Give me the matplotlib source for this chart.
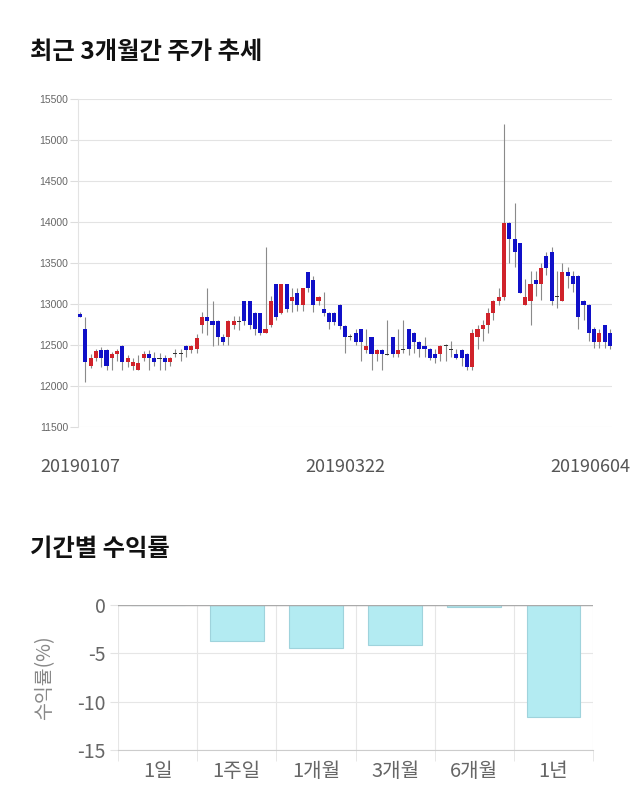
import numpy as np
import matplotlib
matplotlib.use("Agg")
import matplotlib.pyplot as plt
from matplotlib.transforms import ScaledTranslation

plt.rcParams['font.family'] = ['Noto Sans CJK KR', 'DejaVu Sans']

# 일봉 데이터
opens = [12880, 12700, 12240, 12340, 12440, 12440, 12340, 12390, 12490, 12290,
         12240, 12190, 12340, 12390, 12340, 12340, 12340, 12290, 12400, 12400,
         12490, 12440, 12450, 12740, 12840, 12790, 12790, 12600, 12600, 12740,
         12790, 13040, 13040, 12890, 12890, 12650, 12740, 13240, 12890, 13240,
         13040, 13140, 12990, 13390, 13290, 13040, 12940, 12890, 12890, 12990,
         12730, 12600, 12650, 12700, 12440, 12600, 12390, 12440, 12390, 12600,
         12390, 12450, 12700, 12650, 12540, 12490, 12450, 12390, 12390, 12490,
         12450, 12390, 12440, 12390, 12230, 12600, 12700, 12740, 12890, 13040,
         13090, 13990, 13790, 13740, 12990, 13040, 13290, 13240, 13590, 13640,
         13090, 13040, 13390, 13340, 13340, 13040, 12990, 12700, 12540, 12740,
         12650]
closes = [12840, 12290, 12340, 12430, 12340, 12240, 12390, 12430, 12290, 12340,
          12290, 12280, 12390, 12340, 12290, 12340, 12290, 12340, 12400, 12400,
          12440, 12490, 12590, 12840, 12790, 12740, 12600, 12540, 12790, 12790,
          12790, 12790, 12740, 12700, 12650, 12700, 13040, 12840, 13240, 12940,
          13090, 12990, 13200, 13200, 12990, 13090, 12890, 12780, 12780, 12730,
          12600, 12600, 12540, 12540, 12490, 12390, 12440, 12390, 12390, 12390,
          12440, 12450, 12450, 12540, 12450, 12450, 12340, 12340, 12490, 12490,
          12450, 12340, 12340, 12230, 12650, 12700, 12740, 12890, 13040, 13090,
          13990, 13790, 13630, 13140, 13090, 13240, 13240, 13440, 13440, 13040,
          13090, 13390, 13340, 13240, 12840, 12990, 12650, 12540, 12650, 12540,
          12490]
highs = [12900, 12840, 12390, 12450, 12480, 12450, 12420, 12450, 12500, 12380,
         12340, 12380, 12430, 12440, 12420, 12400, 12380, 12350, 12450, 12450,
         12500, 12500, 12640, 12900, 13200, 13040, 12800, 12640, 12800, 12850,
         12850, 13040, 13040, 12900, 12890, 13700, 13100, 13240, 13240, 13240,
         13200, 13200, 13200, 13390, 13340, 13100, 13150, 12900, 12900, 13000,
         12740, 12640, 12700, 12700, 12700, 12600, 12450, 12450, 12800, 12600,
         12700, 12800, 12700, 12660, 12550, 12600, 12460, 12450, 12500, 12510,
         12550, 12450, 12450, 12400, 12700, 12750, 12800, 12950, 13050, 13200,
         15200, 14000, 14230, 13740, 13300, 13400, 13400, 13500, 13640, 13700,
         13400, 13500, 13450, 13400, 13350, 13050, 13000, 12720, 12700, 12750,
         12700]
lows = [12840, 12050, 12220, 12300, 12230, 12200, 12200, 12300, 12200, 12230,
        12200, 12190, 12300, 12200, 12250, 12200, 12200, 12250, 12350, 12300,
        12350, 12400, 12400, 12650, 12620, 12490, 12500, 12500, 12500, 12700,
        12680, 12750, 12700, 12620, 12620, 12650, 12720, 12800, 12880, 12900,
        12900, 12920, 12920, 13150, 12900, 12990, 12850, 12700, 12750, 12700,
        12400, 12560, 12500, 12300, 12400, 12200, 12300, 12200, 12380, 12350,
        12350, 12400, 12380, 12400, 12350, 12350, 12320, 12280, 12300, 12300,
        12350, 12330, 12250, 12200, 12200, 12450, 12550, 12650, 12800, 12990,
        13050, 13500, 13450, 13140, 12990, 12740, 13100, 13050, 13350, 12990,
        12950, 13040, 13200, 13150, 12700, 12800, 12550, 12460, 12460, 12460,
        12450]
date_ticks = [0, 50, 100]
date_labels = ['20190107', '20190322', '20190604']
price_ticks = [11500, 12000, 12500, 13000, 13500, 14000, 14500, 15000, 15500]

# 기간별 수익률
periods = ['1일', '1주일', '1개월', '3개월', '6개월', '1년']
returns = [0, -3.7, -4.45, -4.1, -0.2, -11.6]

fig = plt.figure(figsize=(6.4, 8.1), dpi=100)

fig.text(0.047, 0.936, '최근 3개월간 주가 추세', fontsize=17.5, fontweight='bold',
         ha='left', va='center', color='#111111')
fig.text(0.047, 0.322, '기간별 수익률', fontsize=17.5, fontweight='bold',
         ha='left', va='center', color='#111111')

### 캔들 차트
ax = fig.add_axes([0.1219, 0.4728, 0.8344, 0.405])
o = np.array(opens)
c = np.array(closes)
h = np.array(highs)
l = np.array(lows)
x = np.arange(len(o))
up = c > o
down = c < o
flat = c == o

ax.vlines(x, l, h, color='#8a8a8a', linewidth=0.8, zorder=2)
bottom = np.minimum(o, c)
height = np.maximum(np.abs(c - o), 12)
ax.bar(x[up], height[up], bottom=bottom[up], width=0.78, color='#d0222a', zorder=3)
ax.bar(x[down], height[down], bottom=bottom[down], width=0.78, color='#1010c8', zorder=3)
ax.bar(x[flat], height[flat], bottom=bottom[flat] - 6, width=0.78, color='#333333', zorder=3)

ax.set_xlim(-0.38, len(o) - 1 + 0.38)
ax.set_ylim(11500, 15500)
ax.set_yticks(price_ticks)
ax.set_yticklabels([str(p) for p in price_ticks], fontsize=7.5, color='#666666',
                   family=['Liberation Sans', 'DejaVu Sans'])
ax.set_xticks(date_ticks)
ax.set_xticklabels(date_labels, fontsize=13, color='#555555')
ax.tick_params(axis='x', length=0, pad=22)
ax.tick_params(axis='y', length=6, color='#dddddd', pad=1)
ax.grid(axis='y', color='#e3e3e3', linewidth=0.8)
for s in ['top', 'right', 'bottom']:
    ax.spines[s].set_visible(False)
ax.spines['left'].set_color('#e3e3e3')
ax.set_axisbelow(True)
lab = ax.get_xticklabels()[-1]
lab.set_transform(lab.get_transform() + ScaledTranslation(-0.2, 0, fig.dpi_scale_trans))

### 수익률 막대
ax2 = fig.add_axes([0.1844, 0.0741, 0.7422, 0.179])
ax2.bar(np.arange(len(periods)), returns, width=0.68, color='#b3ebf2',
        edgecolor='#9fd3dc', linewidth=0.8, zorder=3)
ax2.axhline(0, color='#aaaaaa', linewidth=1, zorder=4)
ax2.set_xlim(-0.5, len(periods) - 0.5)
ax2.set_ylim(-15, 0)
ax2.set_yticks([0, -5, -10, -15])
ax2.set_yticklabels(['0', '-5', '-10', '-15'], fontsize=14, color='#666666')
ax2.set_xticks(np.arange(len(periods)))
ax2.set_xticklabels(periods, fontsize=14.5, color='#666666')
ax2.set_xticks(np.arange(-0.5, len(periods)), minor=True)
ax2.tick_params(axis='x', which='major', length=0, pad=8)
ax2.tick_params(axis='x', which='minor', length=8, color='#e3e3e3')
ax2.tick_params(axis='y', length=6, color='#e3e3e3', pad=3)
ax2.grid(axis='y', color='#e6e6e6', linewidth=0.8)
ax2.grid(axis='x', which='minor', color='#e6e6e6', linewidth=0.8)
for s in ['top', 'right', 'left']:
    ax2.spines[s].set_visible(False)
ax2.spines['bottom'].set_color('#cccccc')
ax2.set_axisbelow(True)
ax2.set_ylabel('수익률(%)', fontsize=14, color='#888888', labelpad=16)

fig.savefig('out.png', dpi=100)
